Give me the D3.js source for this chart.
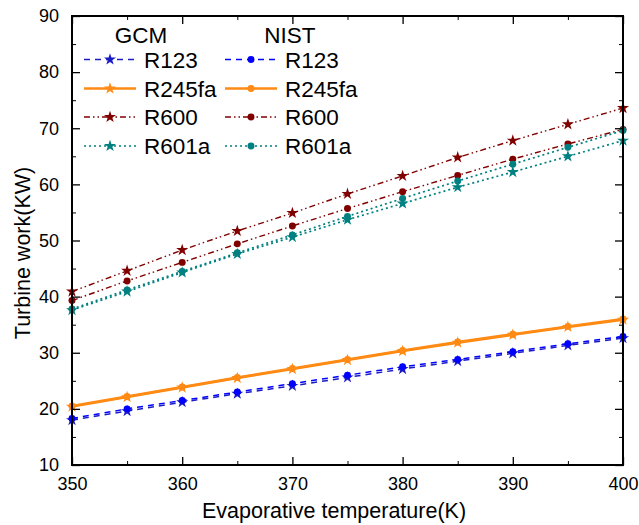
<!DOCTYPE html>
<html><head><meta charset="utf-8">
<script src="https://cdn.jsdelivr.net/npm/d3@7"></script>
<style>body{margin:0;background:#fff}svg{display:block;font-family:"Liberation Sans",Arial,sans-serif}</style>
</head><body><svg id="c" width="639" height="525"></svg>
<script>
const temps = [350,355,360,365,370,375,380,385,390,395,400];
const gcmR123   = [18.0,19.6,21.2,22.7,24.1,25.6,27.1,28.5,29.9,31.3,32.6];
const nistR123  = [18.3,20.0,21.5,23.0,24.5,26.0,27.5,28.8,30.2,31.6,32.9];
const gcmR245fa = [20.4,22.1,23.8,25.5,27.1,28.7,30.3,31.8,33.2,34.6,35.9];
const nistR245fa= [20.5,22.2,23.9,25.6,27.2,28.8,30.4,31.9,33.3,34.7,36.0];
const gcmR600   = [40.9,44.6,48.3,51.7,54.9,58.3,61.5,64.8,67.8,70.7,73.6];
const nistR600  = [39.3,42.8,46.1,49.4,52.6,55.7,58.7,61.6,64.5,67.2,69.8];
const gcmR601a  = [37.6,40.9,44.3,47.6,50.6,53.7,56.6,59.5,62.2,65.0,67.8];
const nistR601a = [37.8,41.2,44.5,47.8,51.0,54.3,57.5,60.6,63.6,66.6,69.6];
const xTicks = [350,360,370,380,390,400];
const yTicks = [10,20,30,40,50,60,70,80,90];

const series = [
  {src:"GCM", name:"R123", v:gcmR123, color:"#1c1cc4", dash:"6,5", w:1.5, sym:"star"},
  {src:"GCM", name:"R245fa", v:gcmR245fa, color:"#ff8a14", dash:null, w:2.5, sym:"star"},
  {src:"GCM", name:"R600", v:gcmR600, color:"#800000", dash:"6,3,1.5,3,1.5,3", w:1.4, sym:"star"},
  {src:"GCM", name:"R601a", v:gcmR601a, color:"#008080", dash:"2,3", w:1.7, sym:"star"},
  {src:"NIST", name:"R123", v:nistR123, color:"#0000ff", dash:"6,5", w:1.5, sym:"circle"},
  {src:"NIST", name:"R245fa", v:nistR245fa, color:"#ff8a14", dash:null, w:2.5, sym:"circle"},
  {src:"NIST", name:"R600", v:nistR600, color:"#800000", dash:"6,3,1.5,3,1.5,3", w:1.4, sym:"circle"},
  {src:"NIST", name:"R601a", v:nistR601a, color:"#008080", dash:"2,3", w:1.7, sym:"circle"}
];

const FF = "'Liberation Sans',Arial,sans-serif";
const svg = d3.select("#c");
const L=72, R=623, T=16, B=465;
const x = d3.scaleLinear().domain([350,400]).range([L,R]);
const y = d3.scaleLinear().domain([10,90]).range([B,T]);

const symStar = d3.symbol().type(d3.symbolStar).size(45);
const symCirc = d3.symbol().type(d3.symbolCircle).size(38);

const plot = svg.append("g");
const line = d3.line().x((d,i)=>x(temps[i])).y(d=>y(d));
series.forEach(s=>{
  plot.append("path").attr("d", line(s.v)).attr("fill","none")
    .attr("stroke", s.color).attr("stroke-width", s.w)
    .attr("stroke-dasharray", s.dash);
  plot.selectAll(null).data(s.v).enter().append("path")
    .attr("transform",(d,i)=>`translate(${x(temps[i])},${y(d)})`)
    .attr("d", s.sym==="star"?symStar:symCirc).attr("fill", s.color);
});

const axG = svg.append("g");
const minorX = d3.range(355,400,10), minorY = d3.range(15,90,10);
function clean(g, w){ g.select(".domain").remove(); g.selectAll("line").attr("stroke","#000").attr("stroke-width",w); }
function styleText(g){ g.selectAll("text").attr("font-size",18).attr("fill","#000").attr("font-family",FF); }
axG.append("g").attr("transform",`translate(0,${B})`)
  .call(d3.axisBottom(x).tickValues(xTicks).tickSize(-8).tickPadding(12).tickFormat(d3.format("d")))
  .call(g=>{clean(g,1.3);styleText(g);});
axG.append("g").attr("transform",`translate(0,${B})`)
  .call(d3.axisBottom(x).tickValues(minorX).tickSize(-4).tickFormat(""))
  .call(g=>clean(g,1));
axG.append("g").attr("transform",`translate(0,${T})`)
  .call(d3.axisTop(x).tickValues(xTicks).tickSize(-8).tickFormat(""))
  .call(g=>clean(g,1.3));
axG.append("g").attr("transform",`translate(0,${T})`)
  .call(d3.axisTop(x).tickValues(minorX).tickSize(-4).tickFormat(""))
  .call(g=>clean(g,1));
axG.append("g").attr("transform",`translate(${L},0)`)
  .call(d3.axisLeft(y).tickValues(yTicks).tickSize(-8).tickPadding(13).tickFormat(d3.format("d")))
  .call(g=>{clean(g,1.3);styleText(g);});
axG.append("g").attr("transform",`translate(${L},0)`)
  .call(d3.axisLeft(y).tickValues(minorY).tickSize(-4).tickFormat(""))
  .call(g=>clean(g,1));
axG.append("g").attr("transform",`translate(${R},0)`)
  .call(d3.axisRight(y).tickValues(yTicks).tickSize(-8).tickFormat(""))
  .call(g=>clean(g,1.3));
axG.append("g").attr("transform",`translate(${R},0)`)
  .call(d3.axisRight(y).tickValues(minorY).tickSize(-4).tickFormat(""))
  .call(g=>clean(g,1));
svg.append("rect").attr("x",L).attr("y",T).attr("width",R-L).attr("height",B-T)
  .attr("fill","none").attr("stroke","#000").attr("stroke-width",2);

svg.append("text").attr("x",334).attr("y",518).attr("text-anchor","middle")
  .attr("font-size",21.5).attr("font-family",FF).text("Evaporative temperature(K)");
svg.append("text").attr("transform",`translate(30,253) rotate(-90)`).attr("text-anchor","middle")
  .attr("font-size",21.5).attr("font-family",FF).text("Turbine work(KW)");

const lg = svg.append("g").attr("font-size",22.5).attr("font-family",FF);
const cols = [{src:"GCM", x0:84, hx:141}, {src:"NIST", x0:225, hx:290}];
const rowY = [59.5,88.5,117,146];
cols.forEach(c=>{
  lg.append("text").attr("x",c.hx).attr("y",43).attr("text-anchor","middle").text(c.src);
  series.filter(s=>s.src===c.src).forEach((s,i)=>{
    const yy = rowY[i];
    lg.append("line").attr("x1",c.x0).attr("x2",c.x0+52).attr("y1",yy).attr("y2",yy)
      .attr("stroke",s.color).attr("stroke-width",s.w).attr("stroke-dasharray",s.dash);
    lg.append("path").attr("transform",`translate(${c.x0+26},${yy})`)
      .attr("d", s.sym==="star"?symStar:symCirc).attr("fill",s.color);
    lg.append("text").attr("x",c.x0+60).attr("y",yy+8).text(s.name);
  });
});
</script></body></html>
